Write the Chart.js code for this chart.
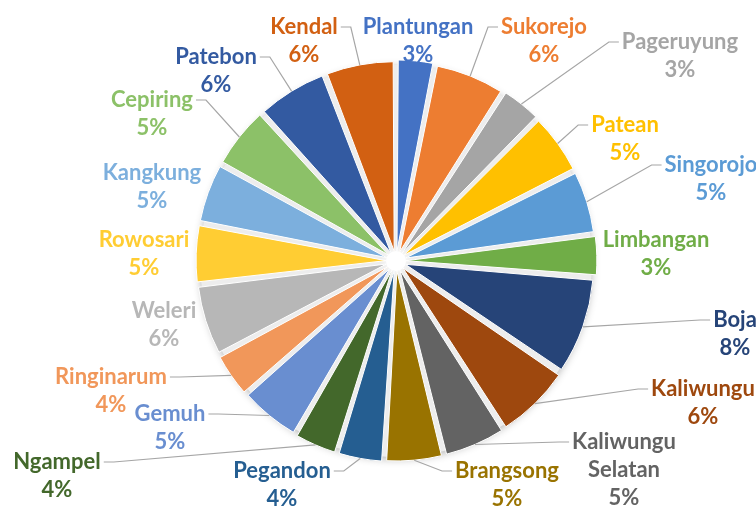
<!DOCTYPE html>
<html>
<head>
<meta charset="utf-8">
<script src="https://cdn.jsdelivr.net/npm/chart.js@4"></script>
<style>
  html, body { margin: 0; padding: 0; background: #fff; }
  canvas { display: block; }
</style>
</head>
<body>
<canvas id="pieKecamatan" width="756" height="509"></canvas>
<script>
// kecamatan, clockwise from the top
const districts = ['Plantungan', 'Sukorejo', 'Pageruyung', 'Patean', 'Singorojo', 'Limbangan', 'Boja', 'Kaliwungu',
  'Kaliwungu Selatan', 'Brangsong', 'Pegandon', 'Ngampel', 'Gemuh', 'Ringinarum', 'Weleri', 'Rowosari',
  'Kangkung', 'Cepiring', 'Patebon', 'Kendal'];
const shares = [3.1, 5.9, 3.4, 5.1, 5.3, 3.4, 8.2, 6.4, 5.2, 4.8, 3.8, 3.6, 5.1, 3.7, 5.9, 4.9, 5.0, 5.2, 5.9, 5.8];

const sliceColors = ['#4472C4', '#ED7D31', '#A5A5A5', '#FFC000', '#5B9BD5', '#70AD47', '#264478', '#9E480E',
  '#636363', '#997300', '#255E91', '#43682B', '#698ED0', '#F1975A', '#B7B7B7', '#FFCD33',
  '#7CAFDD', '#8CC168', '#335AA1', '#D26012'];

// where each data label sits, relative to the pie centre (x, y of the first text line)
const labelOffsets = [[22, -234], [148, -234], [284, -219], [229, -136], [315, -96], [260, -21], [339, 59], [307, 128],
  [228, 181], [111, 210], [-114, 210], [-339, 201], [-226, 153], [-285, 116], [-232, 50], [-252, -21],
  [-244, -88], [-244, -161], [-180, -204], [-92, -234]];

const total = shares.reduce((a, b) => a + b, 0);
const FONT = 'bold 22px Lato';
const LINE_H = 28;
const EXPLODE = 40; // chart.js moves each slice by offset / 4

function labelLines(name, value) {
  const lines = name.length > 12 ? name.split(' ') : [name];
  lines.push(Math.round(value / total * 100) + '%');
  return lines;
}

// how far the outer edge of an exploded slice reaches from the pie centre
function sliceReach(p) {
  const t = EXPLODE / 4;
  const fix = 1 - Math.sin(Math.min(Math.PI, p.circumference));
  return p.outerRadius + t + t * fix;
}

const shadowPlugin = {
  id: 'pieShadow',
  beforeDatasetsDraw(chart) {
    const arc = chart.getDatasetMeta(0).data[0];
    if (!arc) return;
    const { x, y, outerRadius } = arc.getProps(['x', 'y', 'outerRadius'], true);
    const ctx = chart.ctx;
    ctx.save();
    ctx.shadowColor = 'rgba(0,0,0,0.3)';
    ctx.shadowBlur = 9;
    ctx.shadowOffsetY = 2;
    ctx.fillStyle = '#ededed';
    ctx.beginPath();
    ctx.arc(x, y, outerRadius + EXPLODE / 4 + 3, 0, Math.PI * 2);
    ctx.fill();
    ctx.restore();
    ctx.save();
    ctx.fillStyle = '#ffffff';
    ctx.shadowColor = '#ffffff';
    ctx.shadowBlur = 8;
    ctx.beginPath();
    ctx.arc(x, y, 10, 0, Math.PI * 2);
    ctx.fill();
    ctx.restore();
  }
};

const labelPlugin = {
  id: 'leaderLabels',
  afterDatasetsDraw(chart) {
    const ctx = chart.ctx;
    const meta = chart.getDatasetMeta(0);
    ctx.save();
    ctx.font = FONT;
    ctx.textAlign = 'center';
    ctx.textBaseline = 'middle';
    meta.data.forEach((arc, i) => {
      const p = arc.getProps(['x', 'y', 'startAngle', 'endAngle', 'outerRadius', 'circumference'], true);
      const mid = (p.startAngle + p.endAngle) / 2;
      const r = sliceReach(p);
      const ax = p.x + Math.cos(mid) * r;
      const ay = p.y + Math.sin(mid) * r;
      const lx = p.x + labelOffsets[i][0];
      const ly = p.y + labelOffsets[i][1];
      const lines = labelLines(districts[i], shares[i]);
      const w = Math.max(...lines.map(t => ctx.measureText(t).width));
      const left = lx - w / 2, right = lx + w / 2;
      const top = ly - 12, bottom = ly + (lines.length - 1) * LINE_H + 12;
      const dx = Math.max(left - ax, 0, ax - right);
      const dy = Math.max(top - ay, 0, ay - bottom);
      if (Math.hypot(dx, dy) > 14) {
        const onLeft = ax < lx;
        const ex = onLeft ? left - 3 : right + 3;
        const elbow = onLeft ? ex - 10 : ex + 10;
        ctx.strokeStyle = '#a6a6a6';
        ctx.lineWidth = 1.2;
        ctx.beginPath();
        ctx.moveTo(ax, ay);
        ctx.lineTo(elbow, ly);
        ctx.lineTo(ex, ly);
        ctx.stroke();
      }
      ctx.fillStyle = sliceColors[i];
      lines.forEach((t, k) => ctx.fillText(t, lx, ly + k * LINE_H));
    });
    ctx.restore();
  }
};

new Chart(document.getElementById('pieKecamatan'), {
  type: 'pie',
  data: {
    labels: districts,
    datasets: [{
      data: shares,
      backgroundColor: sliceColors,
      borderColor: '#ffffff',
      borderWidth: 1,
      offset: EXPLODE
    }]
  },
  options: {
    responsive: false,
    animation: false,
    radius: 183,
    layout: { padding: { left: 36, top: 13, right: 0, bottom: 0 } },
    plugins: {
      legend: { display: false },
      tooltip: { enabled: false }
    }
  },
  plugins: [shadowPlugin, labelPlugin]
});
</script>
</body>
</html>
